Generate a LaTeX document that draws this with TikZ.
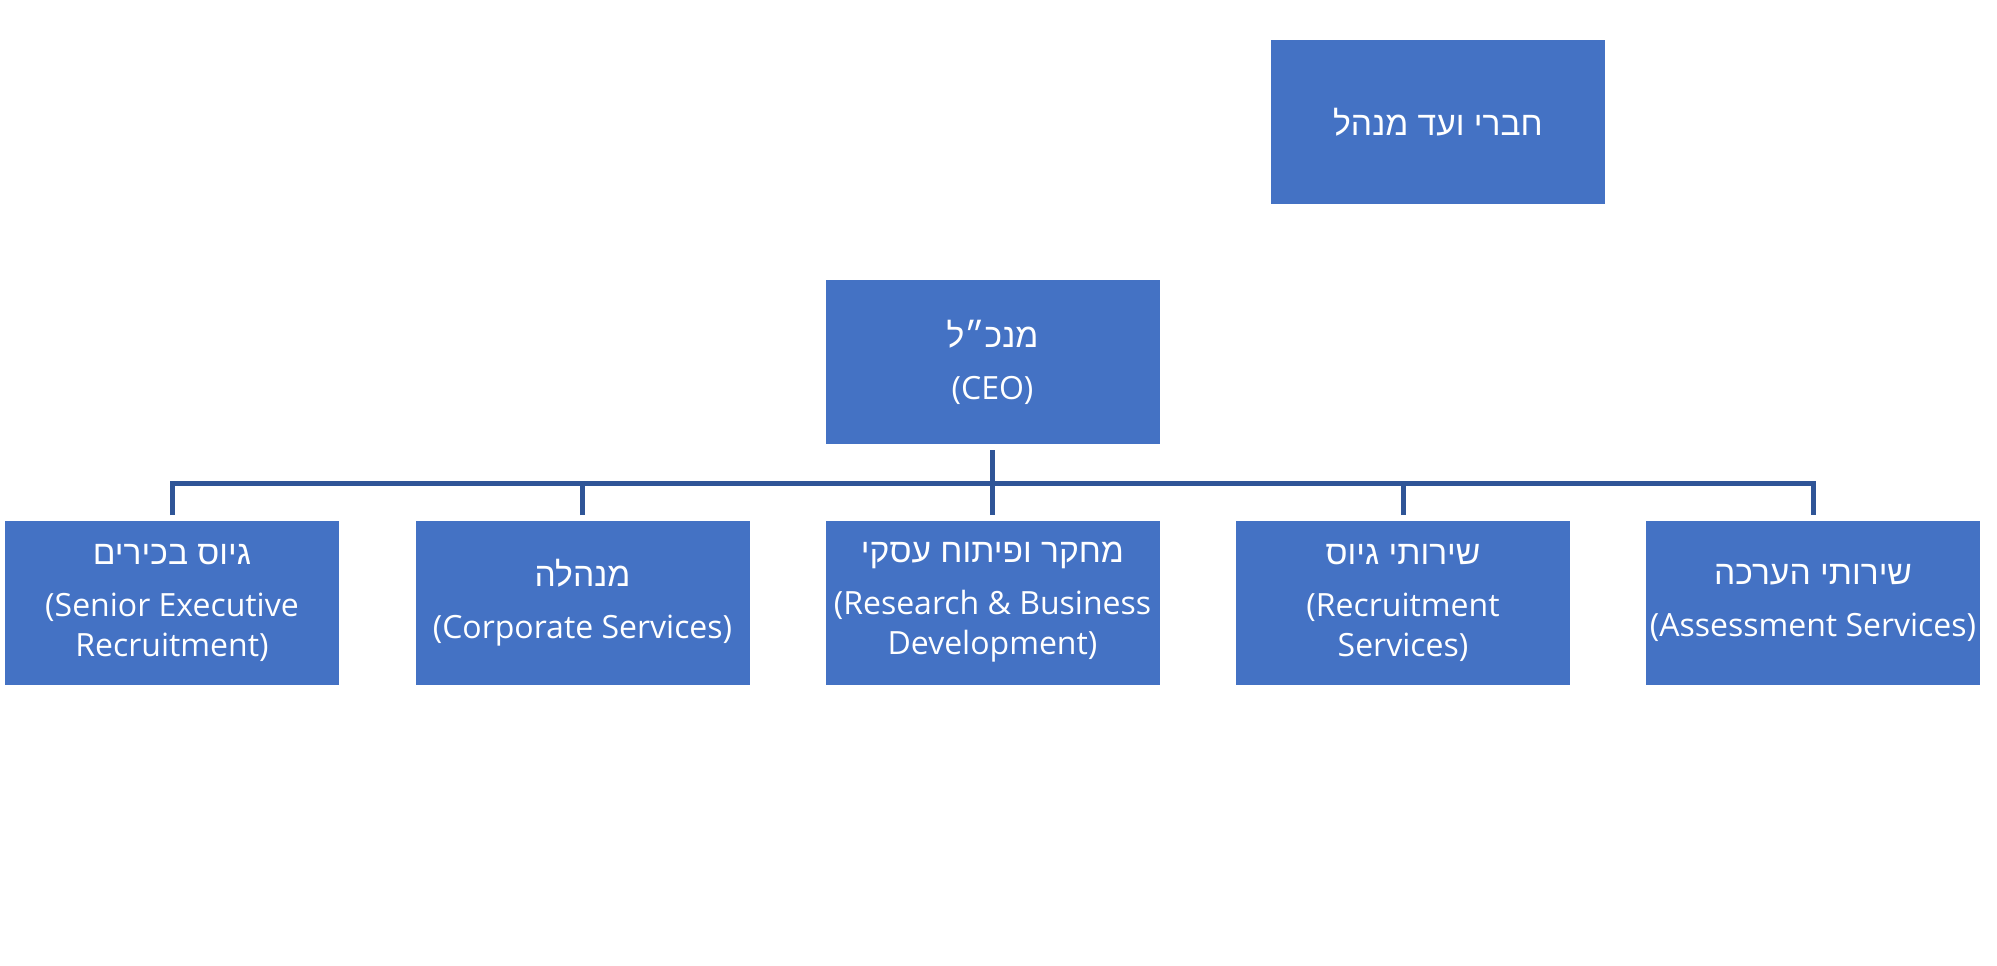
\documentclass[tikz,border=0pt]{standalone}
\usepackage{fontspec}
\setmainfont{Open Sans}
\newfontfamily\hebfont[Script=Hebrew]{Liberation Sans}
\TeXXeTstate=1
\usepackage{xcolor}
\usepackage{tikz}
\usetikzlibrary{positioning, calc}

\definecolor{unitblue}{HTML}{4472C4}
\definecolor{lineblue}{HTML}{2F5597}
\newcommand{\heb}[1]{{\hebfont\fontsize{16.8}{20}\selectfont\beginR #1\endR}}

\tikzset{
  unit/.style={fill=unitblue, text=white, minimum width=167pt, minimum height=82pt,
    inner sep=0pt, align=center, font=\fontsize{16}{20}\selectfont},
  conn/.style={draw=lineblue, line width=2.5pt}
}

\begin{document}
\begin{tikzpicture}[x=0.5pt,y=-0.5pt]
            \useasboundingbox (0,0) rectangle (1997,965);

            \node[unit] (board) at (1438,122) {\heb{חברי ועד מנהל}};
            \node[unit] (ceo) at (992.5,362) {\heb{מנכ״ל}\\[6pt](CEO)};

            \node[unit] (senior) at (172,602.5) {\heb{גיוס בכירים}\\[6pt](Senior Executive\\Recruitment)};
            \node[unit] (corp) at (582.5,602.5) {\heb{מנהלה}\\[6pt](Corporate Services)};
            \node[unit] (rnd) at (992.5,602.5) {\heb{מחקר ופיתוח עסקי}\\[6pt](Research \& Business\\Development)};
            \node[unit] (recr) at (1403,602.5) {\heb{שירותי גיוס}\\[6pt](Recruitment\\Services)};
            \node[unit] (assess) at (1813,602.5) {\heb{שירותי הערכה}\\[6pt](Assessment Services)};

            \coordinate (bus) at (992.5,483.5);

            \draw[conn] ([yshift=-3pt]ceo.south) -- ([yshift=2.5pt]rnd.north);
            \draw[conn] ([yshift=2.5pt]senior.north) |- (bus) -| ([yshift=2.5pt]assess.north);
            \foreach \u in {corp,recr}
              \draw[conn] ([yshift=2.5pt]\u.north) -- (\u.north |- bus);
          \end{tikzpicture}
\end{document}
